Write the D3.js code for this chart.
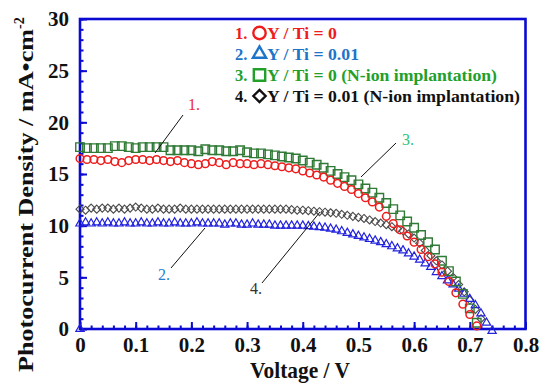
<!DOCTYPE html>
<html><head><meta charset="utf-8">
<script src="https://cdn.jsdelivr.net/npm/d3@7"></script>
<style>body{margin:0;background:#fff}svg{display:block}</style>
</head><body>
<svg id="c" width="545" height="390"></svg>
<script>
// ---- data ----
const vCircle = [0,0.0125,0.025,0.0375,0.05,0.0625,0.075,0.0875,0.1,0.1125,0.125,0.1375,0.15,0.1625,0.175,0.1875,0.2,0.2125,0.225,0.2375,0.25,0.2625,0.275,0.2875,0.3,0.3125,0.325,0.3375,0.35,0.3625,0.375,0.3875,0.4,0.4125,0.425,0.4375,0.45,0.4625,0.475,0.4875,0.5,0.5125,0.525,0.5375,0.55,0.5625,0.575,0.5875,0.6,0.6125,0.625,0.6375,0.65,0.6625,0.675,0.6875,0.7,0.7125];
const jCircle = [16.5,16.4,16.4,16.3,16.4,16.2,16.1,16.3,16.4,16.4,16.3,16.4,16.3,16.2,16.3,16.1,16.0,15.9,16.0,16.2,16.1,15.9,16.1,16.0,16.0,15.9,16.0,15.9,15.8,15.7,15.6,15.5,15.3,15.1,14.9,14.7,14.4,14.1,13.8,13.5,13.1,12.7,12.3,11.8,10.9,10.2,9.6,9.0,8.4,7.7,7.0,6.3,5.5,4.6,3.5,2.4,1.4,0.3];

const vSquare = vCircle;
const jSquare = [17.6,17.5,17.5,17.5,17.5,17.7,17.7,17.6,17.5,17.6,17.6,17.6,17.6,17.3,17.3,17.3,17.3,17.2,17.4,17.3,17.3,17.2,17.2,17.3,17.1,17.0,17.0,16.9,16.8,16.7,16.6,16.5,16.3,16.1,15.9,15.6,15.3,15.0,14.7,14.4,14.0,13.6,13.2,12.7,12.2,11.6,11.0,10.4,9.8,9.1,8.4,7.7,6.6,5.6,4.6,3.4,2.0,0.6];

const vTriangle = [0,0,0.01,0.02,0.03,0.04,0.05,0.06,0.07,0.08,0.09,0.1,0.11,0.12,0.13,0.14,0.15,0.16,0.17,0.18,0.19,0.2,0.21,0.22,0.23,0.24,0.25,0.26,0.27,0.28,0.29,0.3,0.31,0.32,0.33,0.34,0.35,0.36,0.37,0.38,0.39,0.4,0.41,0.42,0.43,0.44,0.45,0.46,0.47,0.48,0.49,0.5,0.51,0.52,0.53,0.54,0.55,0.56,0.57,0.58,0.59,0.6,0.61,0.62,0.63,0.64,0.65,0.66,0.67,0.68,0.69,0.7,0.71,0.72,0.73,0.74];
const jTriangle = [0,10.2,10.3,10.2,10.3,10.2,10.3,10.2,10.2,10.3,10.2,10.2,10.3,10.2,10.2,10.3,10.2,10.2,10.3,10.2,10.2,10.2,10.3,10.2,10.2,10.2,10.2,10.1,10.2,10.2,10.1,10.1,10.2,10.1,10.1,10.1,10.0,10.0,10.0,10.0,10.0,10.0,9.95,9.9,9.85,9.8,9.7,9.6,9.45,9.3,9.15,9.0,8.85,8.7,8.55,8.4,8.2,8.0,7.8,7.6,7.3,7.0,6.7,6.35,6.0,5.5,5.1,4.7,4.3,3.9,3.4,2.9,2.3,1.5,0.6,-0.2];

const vDiamond = [0,0.01,0.02,0.03,0.04,0.05,0.06,0.07,0.08,0.09,0.1,0.11,0.12,0.13,0.14,0.15,0.16,0.17,0.18,0.19,0.2,0.21,0.22,0.23,0.24,0.25,0.26,0.27,0.28,0.29,0.3,0.31,0.32,0.33,0.34,0.35,0.36,0.37,0.38,0.39,0.4,0.41,0.42,0.43,0.44,0.45,0.46,0.47,0.48,0.49,0.5,0.51,0.52,0.53,0.54,0.55,0.56,0.57,0.58,0.59,0.6,0.61,0.62,0.63,0.64,0.65,0.66,0.67,0.68,0.69,0.7,0.71,0.72];
const jDiamond = [11.6,11.5,11.7,11.6,11.7,11.7,11.6,11.7,11.6,11.7,11.8,11.7,11.6,11.6,11.7,11.6,11.6,11.6,11.7,11.6,11.6,11.6,11.6,11.6,11.6,11.6,11.6,11.6,11.6,11.6,11.6,11.6,11.6,11.6,11.6,11.6,11.6,11.6,11.55,11.5,11.5,11.45,11.4,11.35,11.3,11.25,11.2,11.1,11.0,10.9,10.8,10.7,10.55,10.4,10.25,10.1,9.9,9.7,9.5,9.2,8.8,8.3,7.6,7.1,6.6,6.2,5.6,5.0,4.3,3.6,2.8,1.9,1.0];

const legendLabels = ["Y / Ti = 0","Y / Ti = 0.01","Y / Ti = 0 (N-ion implantation)","Y / Ti = 0.01 (N-ion implantation)"];
const xTicks = [0,0.1,0.2,0.3,0.4,0.5,0.6,0.7,0.8];
const yTicks = [0,5,10,15,20,25,30];

// ---- layout ----
const svg = d3.select("#c");
const L = 80, R = 525.5, T = 19, B = 329;
const x = d3.scaleLinear().domain([0,0.8]).range([L,R]);
const y = d3.scaleLinear().domain([0,30]).range([B,T]);
const axisBlue = "#0a0ad2";
const serif = "'Liberation Serif','Times New Roman',serif";

// ticks
const gx = svg.append("g").attr("transform",`translate(0,${B})`)
  .call(d3.axisBottom(x).tickValues(d3.range(0,0.8001,0.02)).tickSize(-3.5).tickFormat(""));
const gx2 = svg.append("g").attr("transform",`translate(0,${B})`)
  .call(d3.axisBottom(x).tickValues(xTicks).tickSize(-7).tickPadding(14)
    .tickFormat(d=> d===0 ? "0" : d3.format(".1f")(d)));
const gy = svg.append("g").attr("transform",`translate(${L},0)`)
  .call(d3.axisLeft(y).tickValues(d3.range(0,30.01,1)).tickSize(-3.5).tickFormat(""));
const gy2 = svg.append("g").attr("transform",`translate(${L},0)`)
  .call(d3.axisLeft(y).tickValues(yTicks).tickSize(-7).tickPadding(11));
[gx,gx2,gy,gy2].forEach(g=>{
  g.select(".domain").remove();
  g.selectAll(".tick line").attr("stroke",axisBlue).attr("stroke-width",2);
  g.selectAll("text").attr("font-family",serif).attr("font-weight","bold").attr("font-size",21).attr("fill","#111");
});
gx2.selectAll("text").attr("dy","0.45em");

// frame
svg.append("rect").attr("x",L).attr("y",T).attr("width",R-L).attr("height",B-T)
  .attr("fill","none").attr("stroke",axisBlue).attr("stroke-width",2.6);

// symbols
const diamondType = {draw(ctx,size){const r=Math.sqrt(size)/2; ctx.moveTo(0,-r);ctx.lineTo(r,0);ctx.lineTo(0,r);ctx.lineTo(-r,0);ctx.closePath();}};
const series = [
  {v:vDiamond, j:jDiamond, type:diamondType, size:64, stroke:"#4a4a4a", w:1.1},
  {v:vTriangle, j:jTriangle, type:d3.symbolTriangle, size:30, stroke:"#2222dd", w:1.2},
  {v:vSquare, j:jSquare, type:d3.symbolSquare, size:72, stroke:"#2f7a35", w:1.4},
  {v:vCircle, j:jCircle, type:d3.symbolCircle, size:46, stroke:"#ee1c1c", w:1.5}
];
series.forEach(s=>{
  svg.append("g").selectAll("path").data(s.v.map((v,i)=>[v,s.j[i]])).join("path")
    .attr("transform",d=>`translate(${x(d[0])},${y(d[1])})`)
    .attr("d",d3.symbol().type(s.type).size(s.size))
    .attr("fill","none").attr("stroke",s.stroke).attr("stroke-width",s.w);
});

// annotations
const ann = [
  {t:"1.", c:"#ee2a2a", tx:188, ty:110, l:[[183,115],[155,153]]},
  {t:"2.", c:"#2a80d0", tx:158, ty:280, l:[[171,268],[205,228]]},
  {t:"3.", c:"#2ec47a", tx:402, ty:145, l:[[396,143],[361,177]]},
  {t:"4.", c:"#333", tx:250, ty:294, l:[[262,283],[320,212]]}
];
ann.forEach(a=>{
  svg.append("line").attr("x1",a.l[0][0]).attr("y1",a.l[0][1]).attr("x2",a.l[1][0]).attr("y2",a.l[1][1])
    .attr("stroke","#111").attr("stroke-width",1);
  svg.append("text").attr("x",a.tx).attr("y",a.ty).text(a.t)
    .attr("font-family",serif).attr("font-size",16).attr("fill",a.c);
});

// legend
const legColors = ["#ee1c1c","#1e74c8","#22a02a","#111"];
const legTypes = [d3.symbolCircle,d3.symbolTriangle,d3.symbolSquare,diamondType];
const legSizes = [120,75,130,150];
const legWidths = [70,92,230,253];
legendLabels.forEach((lab,i)=>{
  const by = 39 + i*21;
  svg.append("text").attr("x",235).attr("y",by).text((i+1)+".")
    .attr("font-family",serif).attr("font-weight","bold").attr("font-size",16.5).attr("fill",legColors[i]);
  svg.append("path").attr("transform",`translate(259.5,${by-6})`)
    .attr("d",d3.symbol().type(legTypes[i]).size(legSizes[i]))
    .attr("fill","none").attr("stroke",legColors[i]).attr("stroke-width",2.4);
  svg.append("text").attr("x",267).attr("y",by).text(lab)
    .attr("textLength",legWidths[i]).attr("lengthAdjust","spacingAndGlyphs")
    .attr("font-family",serif).attr("font-weight","bold").attr("font-size",16.5).attr("fill",legColors[i]);
});

// axis titles
svg.append("text").attr("x",250).attr("y",378)
  .attr("textLength",100).attr("lengthAdjust","spacingAndGlyphs")
  .attr("font-family",serif).attr("font-weight","bold").attr("font-size",24).attr("fill","#111")
  .text("Voltage / V");
const yt = svg.append("text").attr("transform",`translate(33,372) rotate(-90)`)
  .attr("font-family",serif).attr("font-weight","bold").attr("font-size",22).attr("fill","#111");
yt.append("tspan").attr("x",0).attr("textLength",343).attr("lengthAdjust","spacingAndGlyphs")
  .text("Photocurrent Density / mA\u2022cm");
yt.append("tspan").attr("dy",-9).attr("font-size",14).text("-2");
</script>
</body></html>
